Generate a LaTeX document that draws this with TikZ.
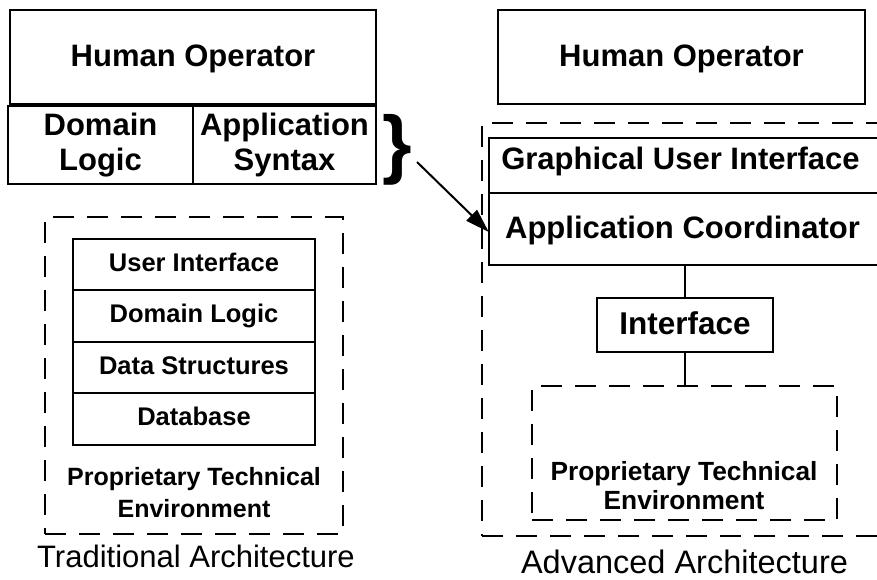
\documentclass[tikz,border=0pt]{standalone}
\usepackage{fontspec}
\setmainfont{Liberation Sans}
\usetikzlibrary{arrows.meta}
\begin{document}
\begin{tikzpicture}[x=1pt,y=-1pt,
  box/.style={draw, line width=2pt, inner sep=0pt, align=center},
  dbox/.style={draw, line width=2.5pt, dash pattern=on 21pt off 13pt, inner sep=0pt},
  big/.style={font=\fontsize{31}{35}\selectfont\bfseries},
  stk/.style={box, text height=18.4pt, text depth=5.4pt, font=\fontsize{25.5}{30}\selectfont\bfseries, minimum width=242pt, minimum height=51.5pt},
  conn/.style={line width=2pt}]
\useasboundingbox (0,0) rectangle (877,580);
\clip (0,0) rectangle (877,580);
% ---------- left: traditional ----------
\node[box, big, text height=22.3pt, text depth=2.5pt, minimum width=366pt, minimum height=94pt] (lho) at (193,57) {Human Operator};
\node[box, big, minimum width=185pt, minimum height=78pt] (ldl) at (100.5,145) {Domain\\Logic};
\node[box, big, minimum width=183pt, minimum height=78pt] (las) at (284.5,145) {Application\\Syntax};
\node[inner sep=0pt, font=\fontsize{76}{76}\selectfont\bfseries] (br) at (397.5,149.5) {\}};
\node[dbox, minimum width=298pt, minimum height=317pt] (ldash) at (194,375.5) {};
\node[stk] (s1) at (194,264.5) {User Interface};
\node[stk] (s2) at (194,316) {Domain Logic};
\node[stk] (s3) at (194,367.5) {Data Structures};
\node[stk] (s4) at (194,419) {Database};
\node[anchor=base, inner sep=0pt, align=center, font=\fontsize{25}{32}\selectfont\bfseries] (lpte) at (194,517) {Proprietary Technical\\Environment};
\node[anchor=base, inner sep=0pt, font=\fontsize{31}{35}\selectfont] (lcap) at (196,567) {Traditional Architecture};
% ---------- right: advanced ----------
\node[box, big, text height=22.3pt, text depth=2.5pt, minimum width=367pt, minimum height=94pt] (rho) at (681.5,57) {Human Operator};
\node[dbox, minimum width=438pt, minimum height=413pt] (rdash) at (701,329.5) {};
\node[inner sep=0pt, big, text height=22.3pt, text depth=13.3pt, minimum width=383pt, minimum height=55pt] (gui) at (680.5,165.5) {Graphical User Interface};
\node[inner sep=0pt, big, text height=22.3pt, text depth=4.3pt, minimum width=387pt, minimum height=72pt] (ac) at (682.5,229) {Application Coordinator};
\draw[conn] ([xshift=60pt]gui.north east) -- (gui.north west) -- (ac.south west) -- ([xshift=60pt]ac.south east);
\draw[conn] (gui.south west) -- ([xshift=60pt]gui.south east);
\node[box, text height=22.7pt, text depth=4.7pt, font=\fontsize{31.5}{35}\selectfont\bfseries, minimum width=176pt, minimum height=54pt] (iface) at (685,325) {Interface};
\node[dbox, minimum width=305pt, minimum height=134pt] (rin) at (684.5,453) {};
\node[anchor=base, inner sep=0pt, align=center, font=\fontsize{26.3}{29}\selectfont\bfseries] (rpte) at (684,509.5) {Proprietary Technical\\Environment};
\node[anchor=base, inner sep=0pt, font=\fontsize{32.5}{36}\selectfont] (rcap) at (684.5,573) {Advanced Architecture};
\draw[conn] (ac.south -| iface.north) -- (iface.north);
\draw[conn] (iface.south) -- (iface.south |- rin.north);
% ---------- arrow ----------
\coordinate (as) at (417,162);
\draw[conn, -{Triangle[length=24pt,width=15pt]}] (as) -- ([yshift=-3pt]ac.west);
\end{tikzpicture}
\end{document}
